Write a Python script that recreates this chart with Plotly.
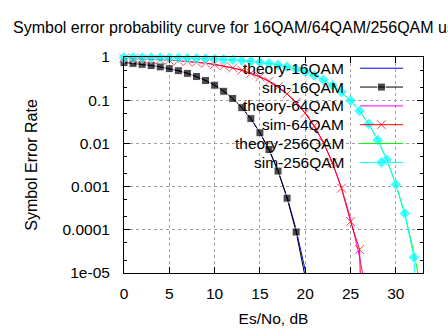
import plotly.graph_objects as go

# Es/No grid (dB) for each series
esno_theory_16 = list(range(0, 22))
esno_theory_64 = list(range(0, 28))
esno_theory_256 = list(range(0, 34))
esno_sim_16 = list(range(0, 21))
esno_sim_64 = list(range(0, 28))
esno_sim_256 = list(range(0, 34))

# Theoretical symbol error rate
theory_16qam = [0.7409, 0.7104, 0.6752, 0.6348, 0.5889, 0.5374, 0.4804, 0.4187,
                0.3535, 0.2870, 0.2220, 0.1617, 0.1094, 0.06747, 0.03715, 0.01778,
                0.007150, 0.002318, 5.728e-4, 1.009e-4, 1.162e-5, 7.84e-7]
theory_64qam = [0.9238, 0.9134, 0.9011, 0.8865, 0.8691, 0.8485, 0.8239, 0.7948,
                0.7605, 0.7204, 0.6738, 0.6205, 0.5602, 0.4937, 0.4221, 0.3476,
                0.2732, 0.2027, 0.1400, 0.08858, 0.05027, 0.02495, 0.010494,
                0.0035917, 9.504e-4, 1.8237e-4, 2.3386e-5, 1.808e-6]
theory_256qam = [0.9794, 0.9765, 0.9730, 0.9688, 0.9637, 0.9576, 0.9502, 0.9413,
                 0.9304, 0.9173, 0.9013, 0.8821, 0.8588, 0.8309, 0.7975, 0.7580,
                 0.7115, 0.6577, 0.5963, 0.5278, 0.4534, 0.3753, 0.2967, 0.2215,
                 0.1541, 0.09825, 0.05628, 0.02825, 0.012042, 0.0041885, 0.0011318,
                 2.2286e-4, 2.9518e-5, 2.3752e-6]

# Simulated symbol error rate (0 = no symbol errors counted)
sim_16qam = [0.7413, 0.7097, 0.6759, 0.6342, 0.5894, 0.5368, 0.4811, 0.4180,
             0.3541, 0.2862, 0.2226, 0.1611, 0.1099, 0.06712, 0.03741, 0.01762,
             0.007210, 0.002290, 5.4e-4, 8.9e-5, 8e-6]
sim_64qam = [0.9241, 0.9129, 0.9015, 0.8861, 0.8696, 0.8479, 0.8243, 0.7952,
             0.7598, 0.7209, 0.6731, 0.6212, 0.5596, 0.4943, 0.4215, 0.3481,
             0.2725, 0.2033, 0.1395, 0.08891, 0.05004, 0.02540, 0.01061,
             0.003560, 9.2e-4, 1.55e-4, 3.5e-5, 0]
sim_256qam = [0.9795, 0.9763, 0.9732, 0.9686, 0.9639, 0.9574, 0.9504, 0.9411,
              0.9306, 0.9170, 0.9016, 0.8818, 0.8592, 0.8305, 0.7979, 0.7576,
              0.7121, 0.6571, 0.5968, 0.5272, 0.4539, 0.3748, 0.2972, 0.2209,
              0.1546, 0.09790, 0.05651, 0.02811, 0.01198, 0.004220, 0.001125,
              2.4e-4, 2.3e-5, 0]

y_tick_vals = [1, 0.1, 0.01, 0.001, 0.0001, 0.00001]
y_tick_text = ["1", "0.1", "0.01", "0.001", "0.0001", "1e-05"]
x_tick_vals = [0, 5, 10, 15, 20, 25, 30]

Y_MIN = 1e-5
FLOOR = 1e-12  # zero error counts drop off the bottom of the log axis

FONT = "Liberation Sans, Arial, sans-serif"
FS = 15.5

fig = go.Figure()


def add_theory(x, y, color):
    fig.add_trace(go.Scatter(x=x, y=y, mode="lines",
                             line=dict(color=color, width=1), showlegend=False))


def add_sim(x, y, color, symbol, size, outline=False):
    yy = [v if v > 0 else FLOOR for v in y]
    sizes = [size if v >= Y_MIN else 0 for v in y]
    marker = dict(symbol=symbol, size=sizes, color=color)
    if outline:
        marker["line"] = dict(color=color, width=1)
    fig.add_trace(go.Scatter(x=x, y=yy, mode="lines+markers",
                             line=dict(color=color, width=1), marker=marker,
                             cliponaxis=False, showlegend=False))


add_theory(esno_theory_16, theory_16qam, "#0000ff")
add_sim(esno_sim_16, sim_16qam, "#000000", "square", 8)
add_theory(esno_theory_64, theory_64qam, "#ff00ff")
add_sim(esno_sim_64, sim_64qam, "#ff0000", "x-thin", 9, outline=True)
add_theory(esno_theory_256, theory_256qam, "#00ff00")
add_sim(esno_sim_256, sim_256qam, "#00ffff", "diamond", 9)

# Key: text right-aligned, line sample to its right
key_entries = [
    ("theory-16QAM", "#0000ff", None, 0, False),
    ("sim-16QAM", "#000000", "square", 8, False),
    ("theory-64QAM", "#ff00ff", None, 0, False),
    ("sim-64QAM", "#ff0000", "x-thin", 9, True),
    ("theory-256QAM", "#00ff00", None, 0, False),
    ("sim-256QAM", "#00ffff", "diamond", 9, False),
]
key_top = 0.948
key_step = 19 / 218
key_text_x = 0.7425
key_x0, key_xm, key_x1 = 0.789, 0.861, 0.933
annotations = []
for i, (label, color, symbol, size, outline) in enumerate(key_entries):
    ky = key_top - i * key_step
    marker = dict(symbol=symbol or "circle", size=[0, size, 0], color=color)
    if outline:
        marker["line"] = dict(color=color, width=1)
    fig.add_trace(go.Scatter(x=[key_x0, key_xm, key_x1], y=[ky, ky, ky],
                             xaxis="x2", yaxis="y2", mode="lines+markers",
                             line=dict(color=color, width=1), marker=marker,
                             cliponaxis=False, showlegend=False, hoverinfo="skip"))
    annotations.append(dict(text=label, xref="paper", yref="paper",
                            x=key_text_x, y=ky, xanchor="right", yanchor="middle",
                            showarrow=False, font=dict(family=FONT, size=FS, color="black")))

fig.update_layout(
    width=448, height=336,
    margin=dict(l=124, r=25, t=57, b=61),
    paper_bgcolor="white", plot_bgcolor="white",
    font=dict(family=FONT, size=FS, color="black"),
    title=dict(text="Symbol error probability curve for 16QAM/64QAM/256QAM using",
               xref="container", yref="container", x=13 / 448, xanchor="left",
               y=1 - 27 / 336, yanchor="middle",
               font=dict(family=FONT, size=16, color="black")),
    xaxis=dict(range=[0, 33], tickvals=x_tick_vals, ticks="inside", ticklen=6,
               tickcolor="black", showline=True, linecolor="black", linewidth=1,
               mirror="ticks", showgrid=True, gridcolor="#a0a0a0", griddash="dot",
               gridwidth=1, zeroline=False, ticklabelstandoff=6,
               tickfont=dict(family=FONT, size=FS, color="black"),
               title=dict(text="Es/No, dB", standoff=12,
                          font=dict(family=FONT, size=FS, color="black"))),
    yaxis=dict(type="log", range=[-5, 0], tickvals=y_tick_vals, ticktext=y_tick_text,
               ticks="inside", ticklen=6, tickcolor="black", showline=True,
               linecolor="black", linewidth=1, mirror="ticks", showgrid=True,
               gridcolor="#a0a0a0", griddash="dot", gridwidth=1, zeroline=False,
               ticklabelstandoff=10,
               tickfont=dict(family=FONT, size=FS, color="black"),
               minor=dict(ticks="inside", ticklen=3, tickcolor="black", showgrid=False),
               title=dict(text="Symbol Error Rate", standoff=20,
                          font=dict(family=FONT, size=16, color="black"))),
    xaxis2=dict(overlaying="x", range=[0, 1], visible=False),
    yaxis2=dict(overlaying="y", range=[0, 1], visible=False),
    annotations=annotations,
)

fig.write_html("out.html")
